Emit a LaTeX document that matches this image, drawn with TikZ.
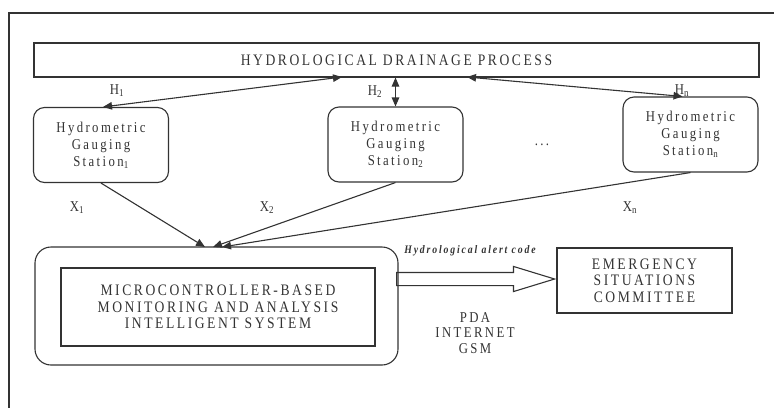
\documentclass[tikz,border=0pt]{standalone}
\usepackage{fontspec}
\setmainfont{Liberation Serif}
\newfontfamily\trackedrm[LetterSpace=16, FakeStretch=0.85]{Liberation Serif}
\usetikzlibrary{arrows.meta,shapes.arrows}

\definecolor{ink}{HTML}{333333}

\begin{document}
\begin{tikzpicture}[
    x=1pt, y=-1pt,
    >={Triangle[length=9pt, width=7.5pt]},
    line/.style    = {line width=1.1pt, draw=ink},
    box/.style     = {draw=ink, line width=1.1pt, inner sep=0pt},
    station/.style = {box, rounded corners=11pt, minimum width=135pt,
                      minimum height=75pt, align=center,
                      font=\fontsize{15}{17}\trackedrm},
    caps/.style    = {align=center, font=\fontsize{16}{16.5}\trackedrm},
    sig/.style     = {text=ink, font=\fontsize{15}{16}\trackedrm}
]
\useasboundingbox (0,0) rectangle (774,408);

% sheet border (only top and left edge)
\draw[line] (774,13) -- (9,13) -- (9,408);

% drainage process bar
\node[box, minimum width=725pt, minimum height=34pt, text=ink,
      font=\fontsize{16}{16}\trackedrm] (proc) at (396.5,60)
      {HYDROLOGICAL DRAINAGE PROCESS};

% gauging stations
\foreach \k/\x/\y in {1/101/145, 2/395.5/144.5, n/690.5/134.5}
    \node[station, text=ink] (st\k) at (\x,\y)
        {Hydrometric\\Gauging\\Station\textsubscript{\k}};
\node[sig] (dots) at (542,145) {...};

% level signals H_i
\coordinate (p1) at (342,77);
\coordinate (pn) at (467,77);
\draw[<->, line] ([xshift=2pt]st1.north) -- (p1);
\draw[<->, line] (st2.north) -- (st2.north |- proc.south);
\draw[<->, line] ([xshift=-8pt]stn.north) -- (pn);
\node[sig] (H1) at (117,91) {H\textsubscript{1}};
\node[sig] (H2) at (375,92) {H\textsubscript{2}};
\node[sig] (Hn) at (682,91) {H\textsubscript{n}};

% monitoring unit
\node[box, rounded corners=16pt, minimum width=363pt, minimum height=118pt]
    (unit) at (216.5,306) {};
\node[box, caps, text=ink, minimum width=314pt, minimum height=78pt]
    (sys) at (218,307)
    {MICROCONTROLLER-BASED\\MONITORING AND ANALYSIS\\INTELLIGENT SYSTEM};

% measured signals X_i
\coordinate (in1) at (205,247);
\coordinate (in2) at (213,247);
\coordinate (inn) at (222,247);
\draw[->, line] (st1.south) -- (in1);
\draw[->, line] (st2.south) -- (in2);
\draw[->, line] (stn.south) -- (inn);
\node[sig] (X1) at (77,208) {X\textsubscript{1}};
\node[sig] (X2) at (267,208) {X\textsubscript{2}};
\node[sig] (Xn) at (630,208) {X\textsubscript{n}};

% committee and alert link
\node[box, caps, text=ink, minimum width=175pt, minimum height=65pt]
    (esc) at (644.5,280.5) {EMERGENCY\\SITUATIONS\\COMMITTEE};
\node[single arrow, draw=ink, line width=1.1pt, inner xsep=0pt, inner ysep=6pt,
      single arrow head extend=6pt, single arrow tip angle=34,
      minimum height=158pt, anchor=tip] (link) at (esc.west |- 0,279) {};
\node[text=ink, font=\fontsize{11.5}{12}\trackedrm\bfseries\itshape]
    (code) at (470,251) {Hydrological alert code};
\node[caps, text=ink, font=\fontsize{15}{15.5}\trackedrm] (media) at (475,333)
    {PDA\\INTERNET\\GSM};

\end{tikzpicture}
\end{document}
